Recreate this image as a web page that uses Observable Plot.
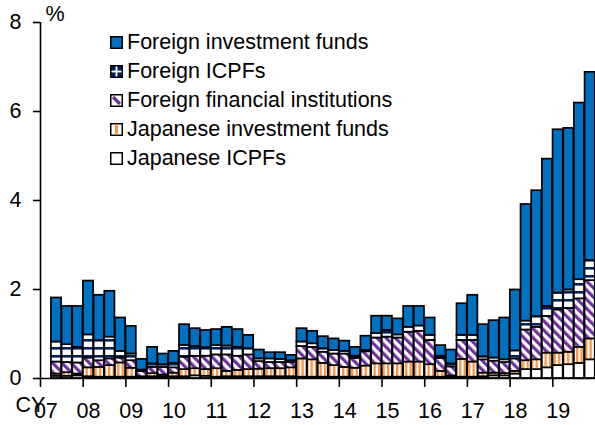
<!DOCTYPE html>
<html><head><meta charset="utf-8">
<script src="https://cdn.jsdelivr.net/npm/d3@7"></script>
<script src="https://cdn.jsdelivr.net/npm/@observablehq/plot@0.6"></script>
<style>
body{margin:0;background:#fff;}
#chart{position:relative;width:595px;height:425px;font-family:"Liberation Sans",Arial,sans-serif;color:#000;}
#legend{position:absolute;left:110px;top:0;font-size:21.5px;}
.row{position:absolute;left:0;white-space:nowrap;line-height:29px;height:29px;}
.row svg{vertical-align:baseline;margin-right:4px;}
</style></head><body><div id="chart"><div id="legend"></div></div>
<script>
const years = ["07","08","09","10","11","12","13","14","15","16","17","18","19"];
const yTicks = [0, 2, 4, 6, 8];
const seriesNames = ["Japanese ICPFs","Japanese investment funds","Foreign financial institutions","Foreign ICPFs","Foreign investment funds"];
const legendOrder = ["Foreign investment funds","Foreign ICPFs","Foreign financial institutions","Japanese investment funds","Japanese ICPFs"];

// quarterly values, 2007Q1 .. 2019Q4 (first quarter has no bar)
const japaneseICPFs = [null,0.05,0.05,0.06, 0.04,0.03,0.03,0.03, 0.03,0.02,0.04,0.04, 0.04,0.04,0.06,0.05,
  0.03,0.04,0.04,0.04, 0.04,0.04,0.04,0.04, 0.03,0.03,0.03,0.03, 0.03,0.03,0.03,0.03, 0.03,0.03,0.03,0.03,
  0.03,0.03,0.03,0.03, 0.03,0.04,0.06,0.06, 0.10,0.20,0.20,0.24, 0.29,0.31,0.34,0.42];
const japaneseInvestmentFunds = [null,0.05,0.08,0.04, 0.20,0.22,0.26,0.32, 0.20,0.02,0.07,0.04, 0.08,0.16,0.16,0.15,
  0.19,0.12,0.14,0.16, 0.17,0.18,0.18,0.20, 0.41,0.39,0.31,0.26, 0.22,0.20,0.25,0.30, 0.30,0.30,0.34,0.34,
  0.28,0.13,0.03,0.40, 0.34,0.08,0.06,0.05, 0.06,0.20,0.22,0.33, 0.28,0.28,0.36,0.47];
const foreignFinancialInstitutions = [null,0.27,0.23,0.25, 0.22,0.15,0.15,0.11, 0.17,0.12,0.14,0.17, 0.12,0.28,0.28,0.30,
  0.31,0.37,0.32,0.33, 0.17,0.14,0.14,0.12, 0.28,0.28,0.25,0.26, 0.30,0.22,0.32,0.58, 0.60,0.58,0.67,0.69,
  0.54,0.29,0.20,0.42, 0.48,0.30,0.27,0.25, 0.28,0.69,0.73,0.82, 0.97,0.98,1.09,1.31];
const foreignICPFs = [null,0.45,0.40,0.35, 0.52,0.45,0.49,0.15, 0.15,0.03,0.08,0.06, 0.10,0.26,0.22,0.19,
  0.21,0.20,0.20,0.14, 0.06,0.08,0.07,0.04, 0.10,0.08,0.08,0.08, 0.06,0.05,0.03,0.10, 0.15,0.07,0.11,0.12,
  0.12,0.05,0.07,0.12, 0.12,0.07,0.07,0.06, 0.18,0.20,0.24,0.23, 0.38,0.42,0.43,0.45];
const foreignInvestmentFunds = [null,0.99,0.86,0.92, 1.21,1.02,1.03,0.75, 0.62,0.24,0.37,0.24, 0.27,0.47,0.40,0.39,
  0.36,0.42,0.40,0.30, 0.20,0.14,0.15,0.12, 0.30,0.28,0.27,0.26, 0.23,0.20,0.32,0.39, 0.32,0.36,0.47,0.44,
  0.39,0.24,0.31,0.71, 0.90,0.72,0.84,0.94, 1.37,2.62,2.83,3.31, 3.67,3.63,3.97,4.23];

const seriesValues = [japaneseICPFs, japaneseInvestmentFunds, foreignFinancialInstitutions, foreignICPFs, foreignInvestmentFunds];
const seriesFills = ["#ffffff", "url(#pJIF)", "url(#pFFI)", "url(#pFICPF)", "#0070C0"];

const quarters = years.flatMap(y => ["Q1","Q2","Q3","Q4"].map(q => y + q));
const rows = [];
quarters.forEach((q, i) => {
  seriesNames.forEach((s, k) => {
    const v = seriesValues[k][i];
    if (v != null) rows.push({i, quarter: q, series: s, value: v});
  });
});
const yearStarts = years.map(y => quarters.indexOf(y + "Q1"));
const yearLabelPos = yearStarts.map(i => i + 0.5);

const font = '"Liberation Sans", Arial, sans-serif';
const svg = Plot.plot({
  width: 595, height: 425,
  marginTop: 22, marginBottom: 47, marginLeft: 40, marginRight: 0,
  x: {domain: [0, quarters.length], axis: null, label: null},
  y: {domain: [0, 8], axis: null, label: null},
  color: {type: "ordinal", domain: seriesNames, range: seriesFills},
  style: {fontFamily: font, fontSize: "21.5px", color: "black", background: "white", overflow: "visible"},
  marks: [
    Plot.rectY(rows, {x1: "i", x2: d => d.i + 1, y: "value", z: "series", fill: "series",
      stroke: "black", strokeWidth: 1.7, insetLeft: 0.25, insetRight: 0.25}),
    Plot.ruleY([0], {strokeWidth: 1.6}),
    Plot.ruleX([0], {y1: 0, y2: 8, strokeWidth: 1.6}),
    Plot.axisY({ticks: yTicks, tickSize: 7, tickPadding: 12, strokeWidth: 1.6, tickFormat: d => String(d)}),
    Plot.axisX({ticks: yearStarts, tickSize: 9, strokeWidth: 1.6, tickFormat: () => ""}),
    Plot.axisX({ticks: yearLabelPos, tickSize: 0, tickPadding: 24, tickFormat: d => years[yearLabelPos.indexOf(d)]}),
    Plot.text(["%"], {frameAnchor: "top-left", textAnchor: "start", lineAnchor: "bottom", dx: 5, dy: -2}),
    Plot.text(["CY"], {frameAnchor: "bottom-left", textAnchor: "start", lineAnchor: "bottom", dx: -25, dy: 33})
  ]
});

// hatch patterns
const defs = d3.select(svg).insert("defs", ":first-child");
const pj = defs.append("pattern").attr("id", "pJIF").attr("patternUnits", "userSpaceOnUse").attr("width", 4.5).attr("height", 4);
pj.append("rect").attr("width", 4.5).attr("height", 4).attr("fill", "#fff");
pj.append("rect").attr("width", 2.4).attr("height", 4).attr("fill", "#F79646");
const pf = defs.append("pattern").attr("id", "pFFI").attr("patternUnits", "userSpaceOnUse").attr("width", 6.5).attr("height", 6.5).attr("patternTransform", "rotate(-45)");
pf.append("rect").attr("width", 6.5).attr("height", 6.5).attr("fill", "#fff");
pf.append("rect").attr("width", 3.2).attr("height", 6.5).attr("fill", "#7030A0");
const pc = defs.append("pattern").attr("id", "pFICPF").attr("patternUnits", "userSpaceOnUse").attr("width", 8).attr("height", 8);
pc.append("rect").attr("width", 8).attr("height", 8).attr("fill", "#fff");
pc.append("rect").attr("y", 3).attr("width", 8).attr("height", 2.6).attr("fill", "#002060");

document.getElementById("chart").prepend(svg);

// legend
const swatch = {
  "Foreign investment funds": '<rect x="0.75" y="0.75" width="11.5" height="11.5" fill="#0070C0" stroke="#000" stroke-width="1.5"/>',
  "Foreign ICPFs": '<rect x="0.75" y="0.75" width="11.5" height="11.5" fill="#002060" stroke="#000" stroke-width="1.5"/><rect x="5.6" y="1.5" width="1.8" height="10" fill="#fff"/><rect x="1.5" y="5.6" width="10" height="1.8" fill="#fff"/>',
  "Foreign financial institutions": '<rect x="0.75" y="0.75" width="11.5" height="11.5" fill="#fff" stroke="#000" stroke-width="1.5"/><path d="M3,3 L10,10" stroke="#7030A0" stroke-width="3.2"/>',
  "Japanese investment funds": '<rect x="0.75" y="0.75" width="11.5" height="11.5" fill="#fff" stroke="#000" stroke-width="1.5"/><rect x="5" y="1.5" width="3" height="10" fill="#F79646"/>',
  "Japanese ICPFs": '<rect x="0.75" y="0.75" width="11.5" height="11.5" fill="#fff" stroke="#000" stroke-width="1.5"/>'
};
const legend = document.getElementById("legend");
legendOrder.forEach((name, k) => {
  const row = document.createElement("div");
  row.className = "row";
  row.style.top = (28 + 29 * k) + "px";
  row.innerHTML = '<svg width="13" height="13" viewBox="0 0 13 13">' + swatch[name] + '</svg>';
  row.appendChild(document.createTextNode(name));
  legend.appendChild(row);
});
legend.style.zIndex = 2;
</script>
</body></html>
